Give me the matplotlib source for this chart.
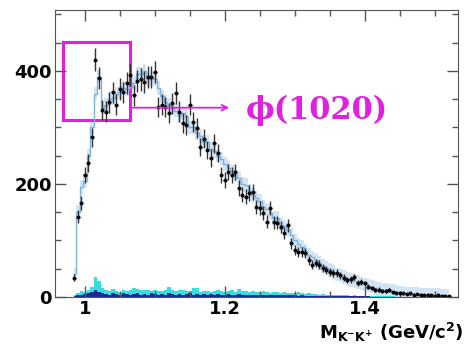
import numpy as np
import matplotlib.pyplot as plt
from matplotlib.patches import Rectangle
from matplotlib.ticker import MultipleLocator

# bin centres (GeV/c^2), 5 MeV bins
mass_start = 0.985
bin_w = 0.005

data = [34, 142, 166, 216, 237, 283, 420, 388, 331, 328,
        345, 362, 340, 368, 362, 378, 393, 357, 382, 385,
        380, 389, 389, 398, 336, 340, 336, 326, 343, 361,
        328, 308, 304, 340, 310, 299, 265, 280, 260, 246,
        272, 255, 216, 207, 221, 216, 221, 193, 181, 177,
        184, 186, 159, 158, 149, 133, 158, 132, 131, 124,
        113, 127, 95, 83, 80, 80, 78, 65, 57, 60,
        57, 51, 48, 44, 42, 42, 38, 34, 30, 31,
        35, 25, 26, 24, 18, 16, 12, 13, 10, 11,
        12, 8, 7, 6, 6, 5, 6, 4, 5, 4,
        3, 4, 3, 2, 3, 2, 2, 2]

mc = [40, 150, 195, 205, 250, 300, 360, 390, 335, 340,
      350, 352, 360, 362, 370, 368, 372, 378, 395, 395,
      400, 385, 388, 385, 370, 355, 345, 340, 335, 330,
      320, 325, 320, 300, 300, 290, 285, 275, 275, 262,
      258, 250, 245, 235, 228, 222, 215, 210, 200, 198,
      188, 180, 175, 170, 160, 155, 148, 140, 140, 128,
      125, 118, 110, 100, 93, 88, 82, 75, 70, 65,
      60, 55, 52, 48, 44, 40, 38, 35, 32, 30,
      28, 26, 24, 22, 20, 18, 16, 14, 13, 12,
      11, 10, 9, 8, 7, 6, 6, 5, 5, 4,
      4, 3, 3, 3, 3, 2, 2, 2]

bkg_cyan = [3, 6, 10, 8, 12, 18, 35, 28, 15, 12,
            10, 14, 11, 9, 13, 10, 12, 15, 14, 13,
            12, 13, 11, 12, 10, 11, 13, 18, 12, 11,
            12, 13, 10, 11, 15, 16, 9, 10, 10, 8,
            11, 12, 10, 9, 10, 12, 9, 14, 11, 10,
            9, 10, 8, 9, 10, 8, 7, 9, 8, 7,
            8, 6, 7, 6, 8, 6, 5, 6, 5, 5,
            4, 5, 4, 4, 3, 4, 3, 3, 3, 2,
            3, 2, 2, 2, 2, 1, 1, 1, 1, 1,
            1, 1, 0, 0, 0, 0, 0, 0, 0, 0,
            0, 0, 0, 0, 0, 0, 0, 0]

bkg_navy = [1, 3, 4, 5, 6, 8, 12, 8, 6, 5,
            4, 6, 5, 4, 6, 5, 4, 5, 6, 4,
            5, 4, 6, 5, 4, 5, 4, 6, 5, 4,
            5, 4, 5, 6, 4, 5, 4, 5, 4, 5,
            4, 5, 4, 4, 5, 4, 4, 5, 4, 4,
            4, 3, 4, 4, 3, 4, 3, 4, 3, 3,
            3, 3, 3, 3, 2, 3, 2, 2, 2, 2,
            2, 2, 2, 1, 2, 1, 1, 1, 1, 1,
            1, 1, 1, 1, 1, 0, 0, 0, 0, 0,
            0, 0, 0, 0, 0, 0, 0, 0, 0, 0,
            0, 0, 0, 0, 0, 0, 0, 0]

x = mass_start + bin_w * np.arange(len(data))
data = np.array(data)
mc = np.array(mc)
err = np.sqrt(data)

fig = plt.figure(figsize=(4.65, 3.44), dpi=100)
ax = fig.add_axes([0.118, 0.137, 0.867, 0.834])

# MC uncertainty boxes + line
ax.fill_between(x, mc - 12, mc + 12, step='mid', color='#9cc3e6', alpha=0.45, lw=0)
ax.step(x, mc, where='mid', color='#7fb4e0', lw=1.0)

# backgrounds
ax.fill_between(x, 0, bkg_cyan, step='mid', color='#33e0e0', lw=0)
ax.fill_between(x, 0, bkg_navy, step='mid', color='#1a2a90', lw=0)

# data
ax.errorbar(x, data, yerr=err, xerr=bin_w / 2, fmt='o', ms=1.8, color='black',
            ecolor='#333333', elinewidth=1.0, capsize=0)

ax.set_xlim(0.957, 1.533)
ax.set_ylim(0, 508)

ax.xaxis.set_minor_locator(MultipleLocator(0.05))
ax.yaxis.set_major_locator(MultipleLocator(200))
ax.yaxis.set_minor_locator(MultipleLocator(50))
ax.set_xticks([1.0, 1.2, 1.4])
ax.set_xticklabels(['1', '1.2', '1.4'])
ax.tick_params(which='both', direction='in', top=True, right=True, color='#555555')
ax.tick_params(which='major', length=8, width=1, pad=2)
ax.tick_params(which='minor', length=4, width=1)
for lab in ax.get_xticklabels() + ax.get_yticklabels():
    lab.set_fontfamily('DejaVu Sans')
    lab.set_fontweight('bold')
    lab.set_fontsize(13)
for s in ax.spines.values():
    s.set_color('#555555')

fig.text(0.997, 0.0, r'$\mathbf{M_{K^{-}K^{+}}}$ (GeV/c$^{\mathbf{2}}$)', ha='right',
         va='bottom', fontsize=13, fontweight='bold', family='DejaVu Sans')

# phi(1020) annotation
pink = '#e020e0'
ax.add_patch(Rectangle((0.969, 313), 0.0953, 138, fill=False, ec=pink, lw=2.2))
ax.annotate('', xy=(1.21, 335), xytext=(1.0643, 335),
            arrowprops=dict(arrowstyle='->', color=pink, lw=1.3))
ax.text(1.23, 331, '\u03d5(1020)', color=pink, fontsize=22, fontweight='bold',
        family=['DejaVu Serif'], va='center', ha='left')

fig.savefig('out.png', dpi=100)
